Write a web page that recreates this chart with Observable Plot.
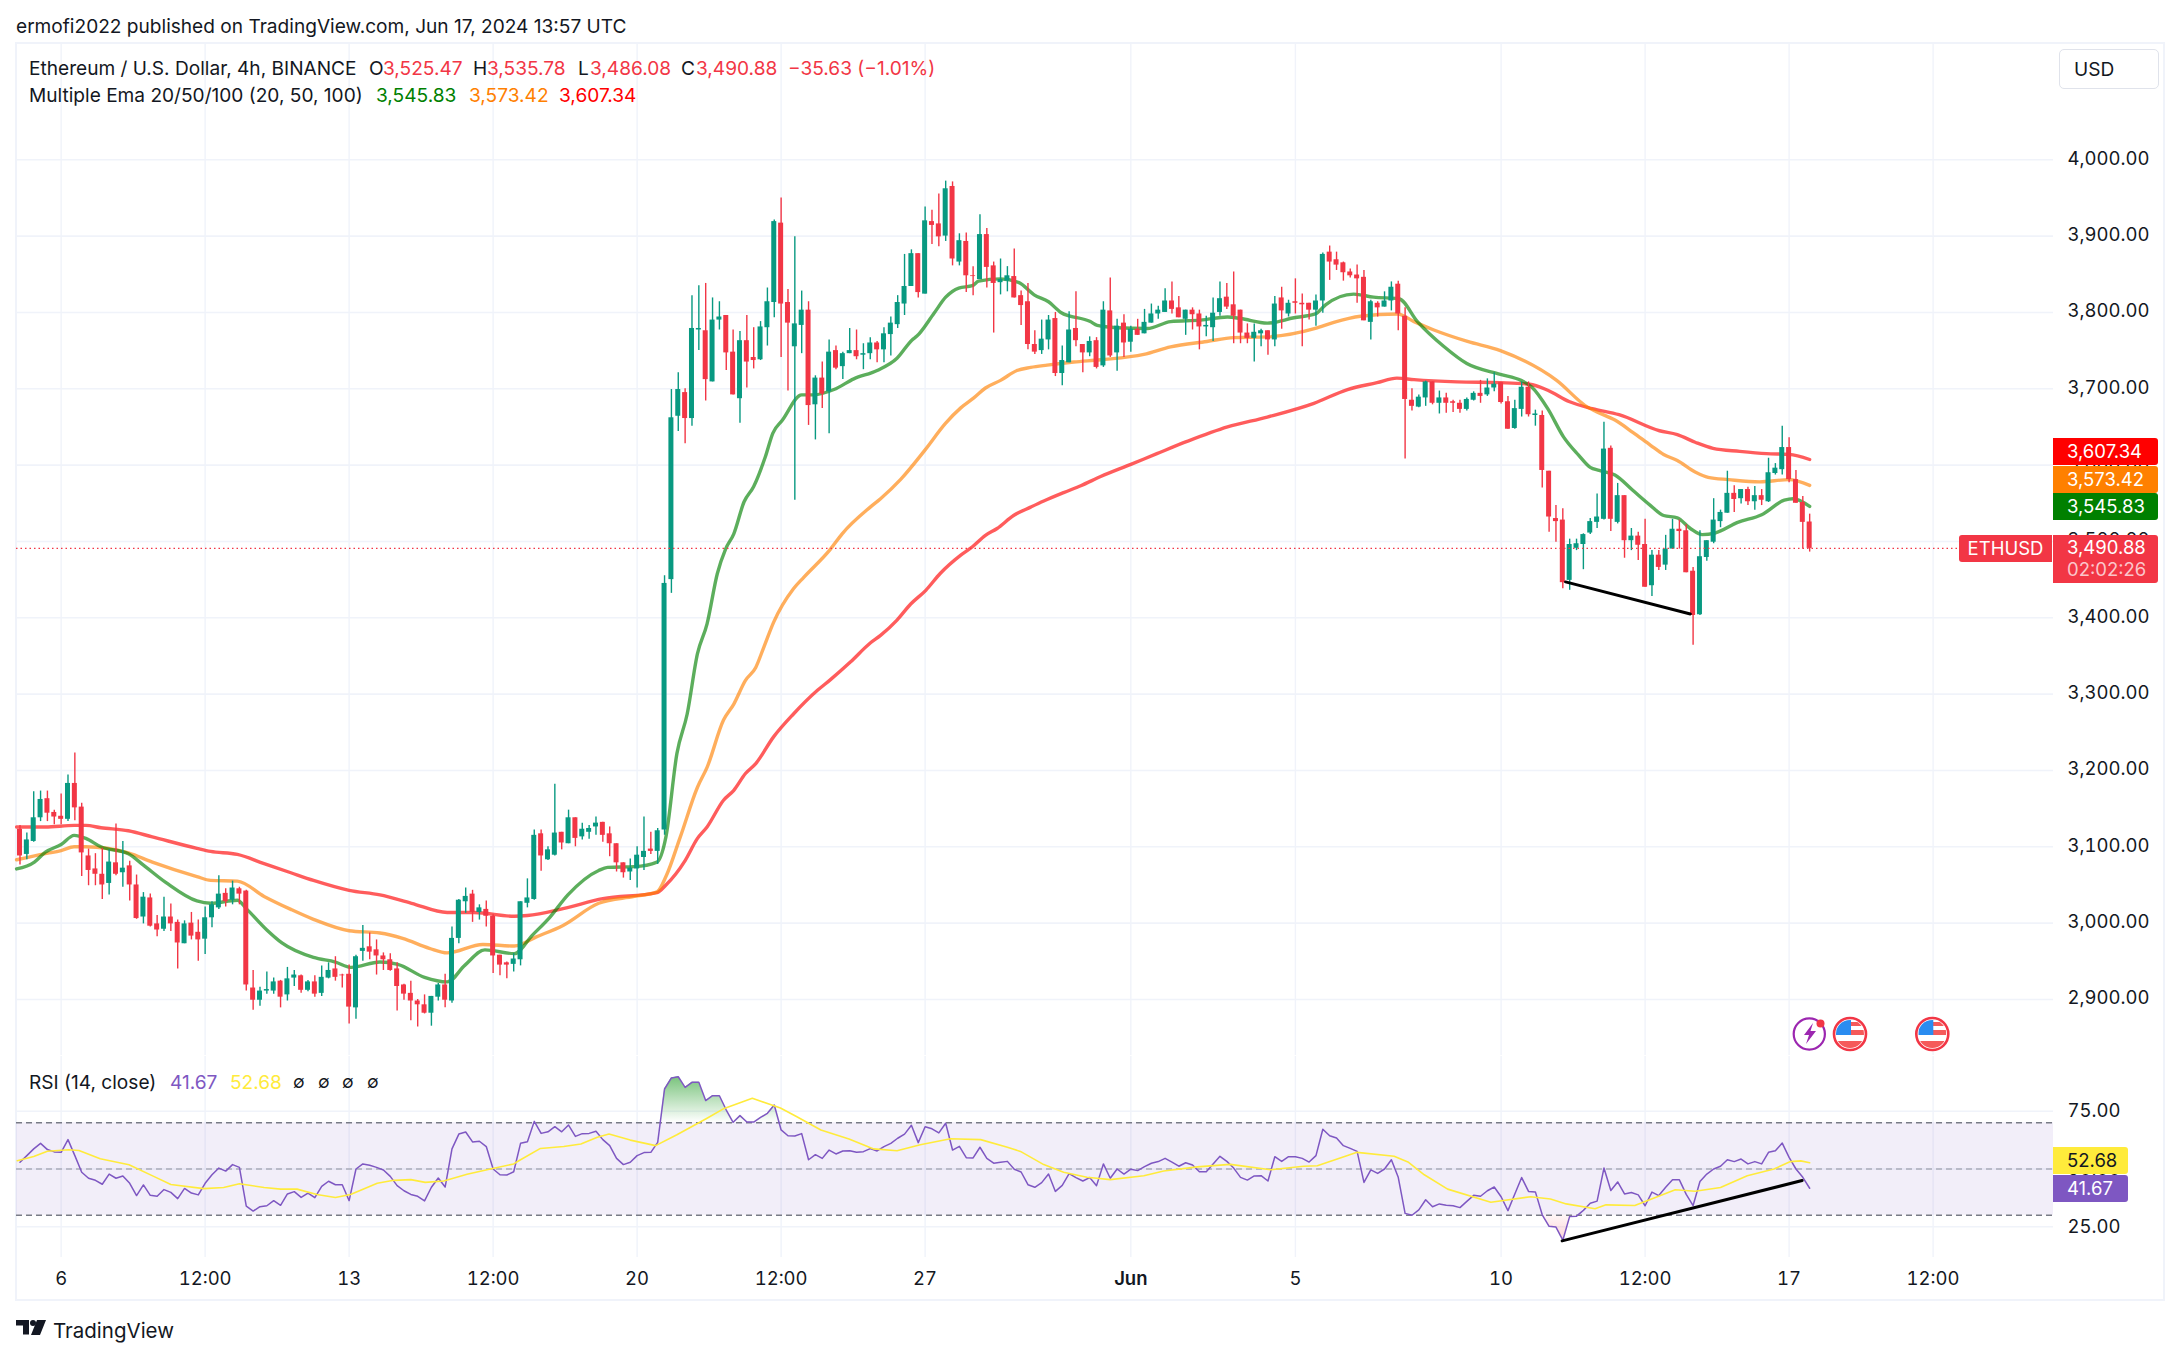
<!DOCTYPE html>
<html><head><meta charset="utf-8">
<script src="https://cdn.jsdelivr.net/npm/d3@7"></script>
<script src="https://cdn.jsdelivr.net/npm/@observablehq/plot@0.6"></script>
<style>
html,body{margin:0;padding:0;background:#fff}
#page{position:relative;width:2181px;height:1357px;overflow:hidden;font-family:Inter,"Noto Sans",sans-serif;color:#131722;font-size:19.1px}
.t{position:absolute;white-space:nowrap;line-height:26px;height:26px}
.badge{position:absolute;left:2053px;width:105px;color:#fff;text-align:left;border-radius:0 3px 3px 0;box-sizing:border-box;padding-left:14px;line-height:27px;font-size:18.5px}
#frame{position:absolute;left:15px;top:42px;width:2150px;height:1259px;border:2px solid #f0f3fa;box-sizing:border-box}
.pane{position:absolute;left:16px}
svg{overflow:visible}
</style></head><body>
<div id="page">
<div id="frame"></div>
<div id="price" class="pane" style="top:44px"></div>
<div id="rsi" class="pane" style="top:1056px"></div>
<div class="t" style="left:16px;top:13px">ermofi2022 published on TradingView.com, Jun 17, 2024 13:57 UTC</div>
<div class="t" style="left:29px;top:55px">Ethereum / U.S. Dollar, 4h, BINANCE</div>
<div class="t" style="left:369px;top:55px">O</div><div class="t" style="left:383px;top:55px;color:#f23645">3,525.47</div>
<div class="t" style="left:473px;top:55px">H</div><div class="t" style="left:487px;top:55px;color:#f23645">3,535.78</div>
<div class="t" style="left:578px;top:55px">L</div><div class="t" style="left:590px;top:55px;color:#f23645">3,486.08</div>
<div class="t" style="left:681px;top:55px">C</div><div class="t" style="left:696px;top:55px;color:#f23645">3,490.88</div>
<div class="t" style="left:788px;top:55px;color:#f23645">−35.63 (−1.01%)</div>
<div class="t" style="left:29px;top:82px">Multiple Ema 20/50/100 (20, 50, 100)</div>
<div class="t" style="left:376px;top:82px;color:#008000">3,545.83</div>
<div class="t" style="left:469px;top:82px;color:#ff8000">3,573.42</div>
<div class="t" style="left:559px;top:82px;color:#ff0000">3,607.34</div>
<div style="position:absolute;left:2059px;top:49px;width:100px;height:40px;border:1px solid #e0e3eb;border-radius:5px;box-sizing:border-box"></div>
<div class="t" style="left:2074px;top:56px">USD</div>
<div class="t" style="left:29px;top:1069px">RSI (14, close)</div>
<div class="t" style="left:170px;top:1069px;color:#7e57c2">41.67</div>
<div class="t" style="left:230px;top:1069px;color:#ffeb3b">52.68</div>
<div class="t" style="left:293px;top:1069px;font-size:17px">∅</div><div class="t" style="left:318px;top:1069px;font-size:17px">∅</div>
<div class="t" style="left:342px;top:1069px;font-size:17px">∅</div><div class="t" style="left:367px;top:1069px;font-size:17px">∅</div>
<div class="badge" style="top:438px;height:27px;background:#ff0000">3,607.34</div>
<div class="badge" style="top:466px;height:27px;background:#ff8000">3,573.42</div>
<div class="badge" style="top:493px;height:27px;background:#008000">3,545.83</div>
<div class="badge" style="top:535px;height:48px;background:#f23645;line-height:21.5px;padding-top:2px">3,490.88<br><span style="color:#fbc5ca">02:02:26</span></div>
<div style="position:absolute;left:1959px;top:535px;width:93px;height:27px;background:#f23645;color:#fff;border-radius:3px 0 0 3px;text-align:center;line-height:27px;font-size:18.5px">ETHUSD</div>
<div class="badge" style="top:1147px;height:27px;width:75px;background:#ffeb3b;color:#131722">52.68</div>
<div class="badge" style="top:1175px;height:27px;width:75px;background:#7e57c2">41.67</div>
<svg style="position:absolute;left:0;top:0" width="2181" height="1357">
 <defs>
  <clipPath id="fc"><circle r="14"/></clipPath>
  <g id="flag"><circle r="16" fill="#fff" stroke="#f23645" stroke-width="2.6"/>
   <g clip-path="url(#fc)"><rect x="-14" y="-14" width="28" height="28" fill="#fff"/>
   <rect x="0" y="-4" width="14" height="5" fill="#f55a5a"/><rect x="-14" y="7" width="28" height="7" fill="#f55a5a"/>
   <rect x="0" y="-12" width="14" height="4" fill="#f55a5a"/>
   <rect x="-14" y="-14" width="15" height="15" fill="#2a8cf0"/></g></g>
 </defs>
 <use href="#flag" x="1850" y="1034"/><use href="#flag" x="1932.3" y="1034"/>
 <circle cx="1809.3" cy="1034" r="15.6" fill="none" stroke="#9c27b0" stroke-width="2.2"/>
 <path d="M1813 1023l-9 12h5l-3 9 10-13h-5.5z" fill="#9c27b0"/>
 <circle cx="1820.5" cy="1023.5" r="4" fill="#f23645"/>
 <g transform="translate(16,1320)" fill="#131722">
  <path d="M0 0h13v14.500h-6v-9h-7z"/><circle cx="17" cy="3" r="3"/><path d="M21 0h9l-6 15h-9z"/>
 </g>
</svg>
<div class="t" style="left:53px;top:1318px;font-size:20.500px">TradingView</div>
</div>
<script>
const opens=[3123,3090,3107,3138,3163,3145,3140,3136,3183,3152,
3088,3071,3064,3052,3079,3066,3075,3050,3008,3033,
2999,2992,3008,3001,2973,3000,2988,2979,3007,3020,
3039,3030,3045,3042,2915,2899,2911,2911,2924,2906,
2928,2931,2912,2923,2908,2928,2940,2932,2933,2889,
2963,2969,2965,2957,2952,2940,2919,2908,2898,2893,
2882,2903,2919,2898,2980,3028,3038,3014,3018,3009,
2958,2948,2946,2952,3026,3031,3117,3083,3089,3119,
3104,3138,3113,3119,3126,3132,3117,3104,3079,3067,
3071,3086,3097,3094,3122,3450,3664,3695,3661,3777,
3776,3709,3790,3796,3748,3687,3763,3741,3738,3780,
3813,3917,3813,3755,3783,3803,3679,3714,3696,3750,
3729,3746,3750,3744,3746,3760,3751,3771,3784,3811,
3834,3877,3824,3919,3916,3900,3965,3866,3893,3848,
3843,3902,3861,3839,3841,3847,3822,3814,3758,3750,
3764,3792,3720,3734,3779,3758,3747,3763,3730,3802,
3747,3786,3761,3778,3772,3786,3798,3800,3815,3806,
3791,3803,3798,3781,3780,3800,3820,3810,3803,3773,
3766,3772,3776,3764,3819,3798,3814,3812,3812,3803,
3815,3879,3869,3865,3853,3849,3846,3787,3812,3807,
3815,3837,3795,3685,3676,3688,3709,3681,3688,3683,
3681,3673,3685,3694,3692,3701,3708,3683,3648,3673,
3702,3665,3665,3592,3530,3528,3449,3491,3496,3511,
3525,3529,3622,3525,3560,3501,3507,3496,3442,3482,
3469,3490,3516,3514,3461,3404,3479,3499,3526,3537,
3563,3556,3568,3552,3560,3552,3589,3594,3623,3581,
3551,3525.47];
const highs=[3128,3118,3172,3173,3173,3148,3169,3194,3223,3157,
3097,3091,3098,3096,3130,3107,3081,3063,3040,3038,
3010,3034,3025,3004,3003,3014,3004,3021,3028,3062,
3045,3055,3047,3043,2938,2916,2936,2928,2925,2942,
2938,2932,2925,2931,2944,2948,2956,2933,2945,2958,
2997,2987,2978,2961,2960,2948,2920,2924,2900,2906,
2904,2921,2933,2995,3031,3046,3043,3024,3029,3011,
2958,2949,2960,3028,3058,3122,3122,3100,3182,3119,
3148,3138,3131,3128,3139,3132,3126,3104,3079,3084,
3100,3139,3119,3124,3455,3699,3721,3700,3822,3835,
3838,3819,3814,3796,3777,3775,3796,3780,3788,3832,
3921,3950,3830,3899,3828,3814,3717,3735,3764,3756,
3748,3779,3777,3759,3767,3762,3780,3794,3822,3876,
3882,3877,3938,3934,3955,3972,3971,3903,3904,3860,
3928,3910,3866,3870,3860,3883,3828,3838,3776,3790,
3796,3800,3756,3801,3827,3758,3768,3767,3814,3845,
3791,3797,3782,3791,3804,3811,3808,3831,3840,3821,
3803,3806,3803,3795,3819,3840,3838,3853,3803,3785,
3785,3778,3776,3821,3833,3816,3844,3824,3812,3823,
3878,3887,3879,3866,3857,3862,3855,3816,3814,3827,
3840,3841,3806,3700,3692,3710,3709,3697,3694,3685,
3685,3688,3696,3711,3713,3721,3708,3690,3685,3709,
3709,3672,3671,3592,3547,3543,3503,3503,3510,3530,
3562,3656,3625,3576,3560,3517,3512,3529,3488,3488,
3508,3529,3528,3522,3466,3514,3501,3556,3541,3592,
3573,3568,3571,3572,3568,3609,3602,3651,3636,3593,
3559,3535.78];
const lows=[3076,3083,3106,3133,3133,3129,3129,3133,3134,3061,
3049,3049,3031,3037,3062,3047,3029,3005,2999,2995,
2982,2989,2989,2940,2973,2978,2950,2959,2994,3018,
3021,3024,3024,2911,2886,2891,2907,2907,2889,2898,
2917,2908,2910,2903,2904,2927,2924,2915,2868,2874,
2950,2952,2932,2938,2937,2885,2899,2872,2864,2881,
2865,2898,2889,2895,2973,3013,3001,3004,2995,2934,
2931,2927,2936,2944,3020,3030,3068,3082,3088,3096,
3104,3100,3109,3110,3115,3106,3087,3067,3059,3056,
3046,3069,3090,3077,3115,3432,3644,3628,3651,3750,
3684,3709,3777,3724,3692,3655,3701,3726,3737,3756,
3793,3741,3697,3554,3746,3652,3633,3674,3641,3725,
3712,3746,3738,3725,3738,3734,3734,3743,3779,3796,
3834,3819,3824,3889,3886,3893,3861,3861,3826,3822,
3843,3832,3773,3823,3827,3819,3783,3751,3745,3745,
3751,3716,3704,3734,3755,3721,3742,3726,3728,3741,
3723,3741,3748,3770,3772,3786,3791,3800,3798,3793,
3770,3777,3751,3768,3762,3795,3804,3759,3759,3759,
3735,3755,3744,3755,3778,3794,3798,3755,3790,3782,
3799,3842,3855,3841,3845,3812,3789,3764,3794,3807,
3802,3776,3608,3671,3675,3677,3679,3667,3668,3669,
3668,3671,3684,3681,3690,3696,3680,3647,3647,3663,
3663,3651,3570,3512,3499,3438,3436,3488,3463,3509,
3517,3528,3513,3523,3478,3488,3475,3440,3428,3462,
3462,3490,3490,3459,3364,3403,3474,3497,3518,3537,
3538,3549,3547,3541,3547,3551,3587,3587,3577,3550,
3490,3486.08];
const closes=[3088,3109,3138,3162,3144,3139,3136,3183,3151,3092,
3069,3064,3050,3080,3064,3072,3050,3006,3034,2996,
2991,3008,2999,2974,2999,2983,2978,3007,3024,3038,
3028,3046,3038,2919,2899,2911,2913,2923,2903,2927,
2932,2912,2923,2907,2929,2938,2929,2931,2890,2956,
2967,2962,2957,2952,2938,2917,2907,2898,2893,2882,
2904,2919,2899,2980,3030,3035,3014,3020,3009,2957,
2945,2945,2953,3028,3033,3115,3088,3096,3118,3105,
3138,3111,3123,3124,3131,3115,3104,3079,3066,3072,
3089,3094,3094,3121,3445,3662,3699,3661,3779,3779,
3712,3790,3794,3747,3692,3763,3735,3737,3781,3814,
3919,3811,3786,3785,3803,3678,3714,3693,3748,3727,
3746,3750,3742,3746,3760,3751,3772,3786,3813,3834,
3877,3826,3920,3914,3899,3962,3870,3894,3848,3847,
3902,3859,3838,3843,3848,3819,3809,3758,3748,3765,
3790,3720,3737,3777,3763,3747,3762,3728,3803,3743,
3782,3760,3778,3770,3787,3798,3803,3815,3804,3793,
3803,3797,3781,3783,3799,3818,3807,3795,3773,3766,
3774,3776,3764,3811,3802,3812,3812,3810,3803,3815,
3876,3866,3862,3852,3848,3844,3789,3814,3806,3815,
3833,3798,3686,3677,3689,3709,3681,3688,3681,3681,
3673,3686,3694,3690,3701,3706,3682,3647,3674,3702,
3666,3667,3593,3532,3526,3446,3496,3497,3509,3526,
3532,3621,3529,3560,3501,3507,3495,3440,3482,3466,
3490,3516,3513,3459,3403,3480,3501,3528,3538,3563,
3555,3568,3552,3560,3554,3590,3596,3623,3581,3550,
3525,3490.88];
const rsi=[52.9,55.8,58.7,61.1,58.4,57.4,57.2,62.7,55.8,48.6,
46,45.1,43.4,47.8,46,47,43.8,38.5,43.1,38.6,
38.2,41.1,39.9,37.2,41.6,39.6,38.8,43.8,47.5,50.4,
49.1,51.9,50.7,33.9,31.8,33.7,34.1,36.3,34.3,39.2,
40.2,37.7,39.6,37.6,42.5,44.7,43.2,43.2,36.3,50,
52.2,51.6,50.7,49.6,46.8,42.8,40.6,39,38.2,36.2,
42.1,46.1,42.2,58.7,65.1,66,61.7,62,59.7,50,
47.5,47.4,48.8,61.1,61.8,70.6,65.4,66.1,68.3,66.1,
69,64.1,65.3,65.4,66.3,62.7,60.1,54.6,51.9,52.9,
55.8,57.1,57.2,61.5,84.6,89.4,89.9,85.3,87.5,87.5,
79.6,81.7,81.7,75.5,70.2,73.1,70.3,70.3,72.3,74.1,
77.7,66.9,64.4,64.3,65.3,54,56.2,54.6,58.2,56.5,
57.8,57.9,57.2,57.5,58.8,57.8,59.7,61.1,63.3,65.1,
68.9,61.4,68.3,67.4,65.6,69.8,58.2,59.8,54.9,54.8,
59.4,54.6,52.5,52.9,53.3,49.9,48.7,43.2,42.1,44.1,
47.8,40.3,42.9,48,46.3,44.8,46.3,42.8,52.2,46,
50,47.8,49.9,49.3,51,52.5,53.2,54.6,53,51.2,
52.7,51.7,48.8,48.8,52.2,55.5,53.3,50.4,46.4,45.2,
47,47.1,44.8,55.3,53.3,55.3,55.3,54.6,53,55.8,
67.2,64.4,63.4,60.1,58.9,57.6,44.2,49.6,48.1,50,
54,46.4,30.8,30,32.3,36.7,33.7,34.9,34.3,34.1,
33.3,36,38.6,38.2,40.6,42.2,38,32,39.2,46.3,
40.3,40.1,30.2,25.2,24.9,19.2,29.5,29.6,32.1,35.2,
36.1,50.4,40.7,44.4,39.2,39.8,38.8,34.1,40,38.5,
42.1,45.4,45.3,39,34.2,44.6,47.8,50,51.2,54,
53.2,54.3,52.2,53.2,52.2,57.2,57.9,61.2,55,50,
46.4,41.67];
// [bar, value] readings of the smooth lines
const ema20=[[-0.5,3071],[2.1,3080],[3.7,3093],[6,3103],[7.9,3115],[9.6,3111],[11.8,3100],[15.8,3091],[18,3076],[21.3,3053],[25.8,3029],[27.8,3026],[31.7,3030],[33,3019],[36,2991],[38.2,2974],[42.8,2955],[46,2949],[48.3,2942],[52.5,2949],[55.1,2946],[59,2929],[62.3,2923],[64.9,2945],[67.8,2965],[72.1,2960],[74.7,2984],[77.3,3008],[79.9,3037],[84.4,3069],[85.7,3073],[89.6,3074],[92.9,3080],[94.2,3113],[95.8,3222],[97.3,3274],[98.8,3353],[100.2,3392],[101.7,3458],[102.9,3490],[104.1,3510],[105.6,3552],[107,3572],[108.7,3611],[109.8,3642],[111.2,3659],[114,3692],[115.8,3692],[118.7,3699],[121.6,3713],[125,3724],[127.9,3740],[130.1,3764],[130.8,3769],[133.3,3799],[135,3820],[136.9,3832],[138.9,3835],[139.8,3841],[143,3844],[145.7,3839],[147.9,3823],[150,3814],[151.8,3800],[156.1,3788],[157.1,3783],[160,3780],[164.4,3779],[167.8,3788],[172.2,3790],[176.1,3794],[178,3792],[181.9,3786],[185.8,3793],[188.9,3798],[190.4,3810],[194.5,3824],[197.4,3820],[201.1,3818],[203.8,3788],[207.7,3755],[211,3733],[215.9,3719],[218.9,3711],[220.5,3702],[222.8,3674],[225.1,3637],[227.3,3613],[229,3597],[230.3,3593],[232.6,3587],[235.2,3567],[237.8,3547],[239.7,3534],[241.7,3531],[243.6,3517],[245.3,3509],[247.2,3511],[250.5,3525],[254,3535],[257.3,3554],[258.6,3556],[261,3545.83]];
const ema50=[[-0.5,3083],[3.7,3091],[6,3095],[7.9,3100],[9.6,3100],[15.8,3092],[19.3,3080],[25.8,3061],[27.8,3056],[31.7,3055],[35.6,3035],[39.5,3018],[42.8,3005],[48,2990],[52.5,2987],[55.8,2980],[59.7,2967],[62.3,2961],[67.5,2972],[72.1,2970],[75.3,2982],[79.2,2997],[84.4,3026],[89.6,3035],[92.9,3041],[94.2,3061],[96.3,3113],[98.8,3178],[100.2,3204],[102.6,3266],[104.1,3287],[105.8,3318],[107.3,3335],[108.5,3362],[109.9,3394],[112.8,3438],[114.3,3453],[118.2,3490],[119.9,3510],[124,3545],[125.5,3556],[128.4,3581],[132,3620],[135,3655],[137.2,3675],[139.1,3688],[140.8,3701],[143,3711],[145.4,3724],[147.4,3728],[149.8,3731],[153.7,3735],[157.6,3738],[163.9,3745],[167.8,3755],[173.1,3762],[177,3767],[181.9,3768],[188.9,3779],[191.6,3787],[195.5,3795],[200.9,3798],[203.3,3788],[206.2,3777],[211.1,3762],[215.9,3750],[224.1,3711],[228.6,3676],[229.9,3670],[232.6,3659],[235.2,3643],[237.8,3626],[239.7,3614],[241.7,3606],[244.3,3591],[246.2,3584],[249.2,3581],[253.7,3578],[258,3581],[261,3573.42]];
const ema100=[[-0.5,3126],[3.7,3126],[7.9,3128],[9.6,3128],[11.8,3125],[15.8,3121],[19.3,3113],[25.8,3098],[27.8,3094],[31.7,3090],[35.6,3078],[39.5,3066],[42.8,3056],[48,3043],[52.5,3037],[57.1,3026],[62.3,3014],[66.2,3014],[72.1,3009],[74,3010],[79.2,3019],[85,3032],[92.9,3040],[94.2,3050],[97,3082],[98.8,3111],[100.2,3126],[102.6,3161],[104.1,3174],[105.8,3196],[107.3,3209],[109.9,3244],[112.8,3274],[116.3,3305],[118.2,3319],[121.1,3342],[124,3367],[125.5,3377],[127.9,3397],[129.9,3418],[132.1,3436],[134.2,3458],[137.2,3482],[138.9,3493],[140.8,3508],[142.5,3517],[144.9,3534],[147.4,3545],[149.3,3553],[152.2,3564],[154.7,3573],[157.6,3585],[162,3601],[165.8,3615],[170.2,3631],[176.1,3650],[181.9,3663],[188.7,3681],[193.6,3699],[197.9,3708],[200.8,3714],[203.3,3712],[209.6,3709],[215.9,3708],[220.2,3706],[222.8,3698],[226,3683],[229.3,3674],[233.2,3666],[239.1,3645],[241.7,3640],[244.3,3630],[246.9,3622],[250.8,3618],[254.7,3615],[258,3614],[261,3607.34]];
const rsiMa=[[-0.4,53.6],[2,55.4],[4,57.7],[7.1,58.3],[8.6,58],[11.7,54.4],[15.9,51.8],[19.5,46.8],[22,43.3],[26.8,41.5],[29.7,42],[32,43.6],[35.6,42],[38,41.3],[40.4,41.3],[43.3,39],[46,37.7],[48.2,39],[50.2,41.5],[52.1,43.8],[54.5,45.1],[57,45.4],[59.1,44.2],[61.8,44.8],[65.2,47.7],[68.6,50],[72,52.2],[73,54],[75.9,58.9],[79.3,59.7],[81.8,60.8],[84.2,63.7],[85.9,65.1],[89,62.5],[92.7,60.1],[95.8,64.8],[100,71.6],[102.7,76.2],[106.8,80.6],[110.9,76.4],[113.3,72.6],[116.8,66.9],[120.9,63],[124.5,58.7],[127.9,57.9],[131.3,60.5],[135.7,63.1],[140.1,62.7],[144,59.4],[145.9,57.6],[149.3,51.9],[152.2,48.6],[155.6,46.4],[159,45.4],[163.9,47.1],[166.8,49.1],[171.7,50.9],[176.5,52],[182.4,49.7],[187.2,51.2],[189.2,51.4],[195,57.2],[200.4,55.5],[202.5,52.9],[204.8,47.5],[208.2,41.3],[214.5,35.6],[220.3,38],[223.2,37],[225.5,34.9],[229.7,32.8],[231.3,34.5],[235.5,34.2],[241.4,41],[244.3,40.4],[248,42],[251.9,47.1],[255.8,50],[258.2,53.2],[259.7,53.5],[261,52.68]];
const priceTrend=[[225.4,3447],[243.6,3405]];
const rsiTrend=[[224.9,18.9],[259.9,45]];
const priceTicks=[2900,3000,3100,3200,3300,3400,3500,3600,3700,3800,3900,4000];
const rsiTicks=[25,50,75];
const lastClose=3490.88;
const timeTicks=[6,27,48,69,90,111,132,162,186,216,237,258,279];
const timeLabels=["6","12:00","13","12:00","20","12:00","27","Jun","5","10","12:00","17","12:00"];
const boldTick=162;

const UP="#089981",DOWN="#f23645",GRID="#f0f3fa",INK="#131722";
const xDomain=[-0.51,296.56];
const candles=opens.map((o,i)=>({i,o,h:highs[i],l:lows[i],c:closes[i]}));
const ups=candles.filter(d=>d.c>=d.o),downs=candles.filter(d=>d.c<d.o);
const toPts=a=>a.map(([x,y])=>({x,y}));
const base={width:2149,marginLeft:0,marginRight:112,marginTop:0,style:{background:"transparent",fontFamily:"Inter,'Noto Sans',sans-serif",fontSize:"18.5px",color:INK,overflow:"visible"}};
const halfBody=0.365;
const candleMarks=(arr,col)=>[
  Plot.ruleX(arr,{x:"i",y1:"l",y2:"h",stroke:col,strokeWidth:1.4}),
  Plot.rect(arr,{x1:d=>d.i-halfBody,x2:d=>d.i+halfBody,y1:"o",y2:"c",fill:col})
];
const emaLine=(a,col)=>Plot.line(toPts(a),{x:"x",y:"y",stroke:col,strokeWidth:3.4,strokeOpacity:.64,curve:"monotone-x"});

const price=Plot.plot({...base,height:1011,marginBottom:0,
  x:{domain:xDomain,axis:null},
  y:{domain:[2826.6,4151],axis:null},
  marks:[
    Plot.ruleY(priceTicks,{stroke:GRID,strokeWidth:1.6}),
    Plot.ruleX(timeTicks,{stroke:GRID,strokeWidth:1.4}),
    Plot.axisY({anchor:"right",ticks:priceTicks,tickFormat:d3.format(",.2f"),tickSize:0,tickPadding:14,fontSize:18.5,fill:INK,label:null,dy:-1}),
    emaLine(ema100,"#ff0000"),emaLine(ema50,"#ff8000"),emaLine(ema20,"#008000"),
    ...candleMarks(ups,UP),...candleMarks(downs,DOWN),
    Plot.ruleY([lastClose],{stroke:DOWN,strokeWidth:1.2,strokeDasharray:"1.5 3"}),
    Plot.line(toPts(priceTrend),{x:"x",y:"y",stroke:"#000",strokeWidth:3})
  ]});
document.getElementById("price").append(price);

// portions of the RSI beyond a level, with the crossing points of the line
const OB=70,OS=30;
function beyond(level,sign){
  const pts=[];
  rsi.forEach((v,i)=>{
    if(i>0){const p=rsi[i-1];
      if((p-level)*(v-level)<0) pts.push({x:i-1+(level-p)/(v-p),y:level});}
    pts.push({x:i,y:sign>0?Math.max(v,level):Math.min(v,level)});
  });
  return pts;
}
const defs=()=>d3.create("svg:defs").html(`
 <linearGradient id="ob" x1="0" y1="0" x2="0" y2="1"><stop offset="0" stop-color="#4caf50" stop-opacity=".75"/><stop offset="1" stop-color="#4caf50" stop-opacity="0"/></linearGradient>
 <linearGradient id="os" x1="0" y1="0" x2="0" y2="1"><stop offset="0" stop-color="#f23645" stop-opacity=".04"/><stop offset="1" stop-color="#f23645" stop-opacity=".22"/></linearGradient>`).node();

const rsiPlot=Plot.plot({...base,height:245,marginBottom:44,
  x:{domain:xDomain,axis:null},
  y:{domain:[11.72,98.66],axis:null},
  marks:[
    defs,
    Plot.ruleY(rsiTicks,{stroke:GRID,strokeWidth:1.6}),
    Plot.ruleX(timeTicks,{stroke:GRID,strokeWidth:1.4}),
    Plot.rect([{a:OS,b:OB}],{x1:xDomain[0],x2:xDomain[1],y1:"a",y2:"b",fill:"#7e57c2",fillOpacity:.1}),
    Plot.areaY(beyond(OB,1),{x:"x",y1:OB,y2:"y",fill:"url(#ob)"}),
    Plot.areaY(beyond(OS,-1),{x:"x",y1:OS,y2:"y",fill:"url(#os)"}),
    Plot.ruleY([OB,OS],{stroke:"#787b86",strokeWidth:1.3,strokeDasharray:"6 4"}),
    Plot.ruleY([50],{stroke:"#787b86",strokeOpacity:.55,strokeWidth:1.3,strokeDasharray:"6 4"}),
    Plot.axisY({anchor:"right",ticks:rsiTicks,tickFormat:d3.format(".2f"),tickSize:0,tickPadding:14,fontSize:18.5,fill:INK,label:null}),
    Plot.axisX({anchor:"bottom",ticks:timeTicks.filter(t=>t!==boldTick),tickFormat:t=>timeLabels[timeTicks.indexOf(t)],tickSize:0,tickPadding:14,fontSize:18.5,fill:INK,label:null}),
    Plot.axisX({anchor:"bottom",ticks:[boldTick],tickFormat:t=>timeLabels[timeTicks.indexOf(t)],tickSize:0,tickPadding:14,fontSize:18.5,fontWeight:600,fill:INK,label:null}),
    Plot.line(rsi,{x:(d,i)=>i,y:d=>d,stroke:"#7e57c2",strokeWidth:1.5}),
    Plot.line(toPts(rsiMa),{x:"x",y:"y",stroke:"#ffeb3b",strokeWidth:1.6}),
    Plot.line(toPts(rsiTrend),{x:"x",y:"y",stroke:"#000",strokeWidth:3})
  ]});
document.getElementById("rsi").append(rsiPlot);
</script>
</body></html>
